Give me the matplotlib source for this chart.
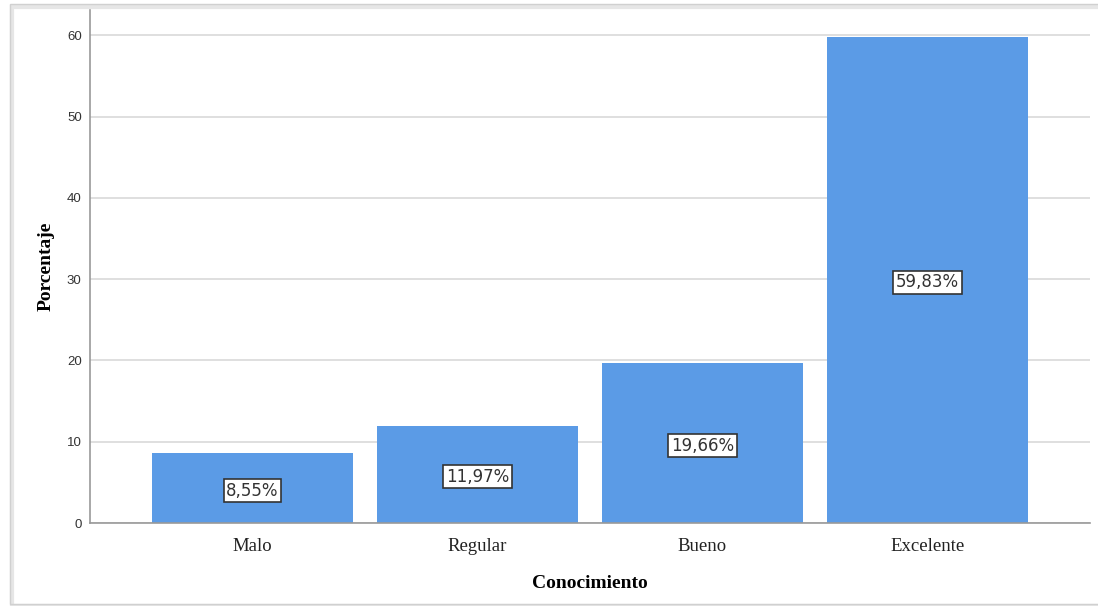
#!/usr/bin/env python3

import matplotlib

matplotlib.use("Agg")
import matplotlib.pyplot as plt
from matplotlib.patches import Rectangle

# percentages per knowledge level
categories = ["Malo", "Regular", "Bueno", "Excelente"]
percentages = [8.55, 11.97, 19.66, 59.83]
bar_labels = ["8,55%", "11,97%", "19,66%", "59,83%"]
yticks = [0, 10, 20, 30, 40, 50, 60]


def main():
    fig = plt.figure(figsize=(10.98, 6.06), dpi=100)
    # outer frame with a soft shadow
    fig.patches.append(Rectangle((12 / 1098, 0.0), 1.0, 1 - 7 / 606, transform=fig.transFigure,
                                 facecolor="none", edgecolor="#e6e6e6", linewidth=3, zorder=0))
    fig.patches.append(Rectangle((10 / 1098, 0.003), 1.0, 1 - 6 / 606, transform=fig.transFigure,
                                 facecolor="none", edgecolor="#d0d0d0", linewidth=1, zorder=0))

    ax = fig.add_axes([90 / 1098, 83 / 606, 1000 / 1098, 513 / 606])
    x = list(range(len(categories)))
    bars = ax.bar(x, percentages, width=0.893, color="#5b9be6", zorder=2)

    for b, lab, v in zip(bars, bar_labels, percentages):
        ax.text(b.get_x() + b.get_width() / 2, v / 2 - 0.3, lab, ha="center", va="center",
                fontsize=12, family="DejaVu Sans", color="#333333", zorder=3,
                bbox=dict(boxstyle="square,pad=0.15", facecolor="white",
                          edgecolor="#333333", linewidth=1.2))

    ax.set_xlim(-0.722, 3.722)
    ax.set_ylim(0, 63.1)
    ax.set_yticks(yticks)
    ax.set_yticklabels([str(t) for t in yticks], family="Liberation Sans", fontsize=9.5, color="#333333")
    ax.set_xticks(x)
    ax.set_xticklabels(categories, family="Liberation Serif", fontsize=13.5, color="#222222")
    ax.tick_params(axis="both", length=0)
    ax.tick_params(axis="x", pad=11)
    ax.tick_params(axis="y", pad=6)

    ax.grid(axis="y", color="#d9d9d9", linewidth=1.2, zorder=1)
    for s in ["top", "right"]:
        ax.spines[s].set_visible(False)
    for s in ["left", "bottom"]:
        ax.spines[s].set_color("#999999")
        ax.spines[s].set_linewidth(1.2)

    ax.set_xlabel("Conocimiento", family="Liberation Serif", fontsize=14, fontweight="bold",
                  labelpad=14)
    ax.set_ylabel("Porcentaje", family="Liberation Serif", fontsize=14, fontweight="bold",
                  labelpad=9)

    fig.savefig("out.png", dpi=100)


if __name__ == "__main__":
    main()
